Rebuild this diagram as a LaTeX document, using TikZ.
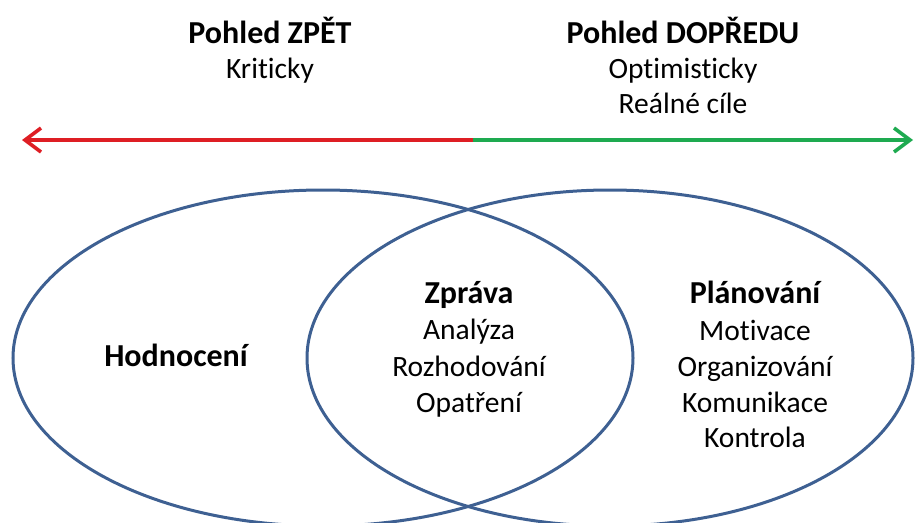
\documentclass[tikz,border=0pt]{standalone}
\usepackage{fontspec}
\setmainfont[Ligatures={NoCommon}]{Carlito}
\usetikzlibrary{arrows.meta}
\definecolor{ellblue}{RGB}{62,96,146}
\definecolor{arrred}{RGB}{222,30,36}
\definecolor{arrgreen}{RGB}{30,170,80}
\tikzset{
  lbl/.style={anchor=base, inner sep=0pt, font=\fontsize{29.5}{35}\selectfont},
  ttl/.style={anchor=base, inner sep=0pt, font=\fontsize{32}{35}\selectfont\bfseries},
  ell/.style={draw=ellblue, line width=3pt},
  arr/.style={line width=3.6pt, -{Straight Barb[length=16pt,width=24pt,line width=3.6pt]}}
}
\begin{document}
\begin{tikzpicture}[x=1pt,y=-1pt]
\useasboundingbox (0,0) rectangle (915,522);
% ellipses
\draw[ell] (323,358) ellipse [x radius=310, y radius=168];
\draw[ell] (610,358) ellipse [x radius=303, y radius=168];
% arrow
\coordinate (mid) at (473,140);
\coordinate (lend) at (22,140);
\coordinate (rend) at (913,140);
\draw[arr, arrred] (mid) -- (lend);
\draw[arr, arrgreen] (mid) -- (rend);
% headings
\node[ttl] (zpet) at (270,43) {Pohled ZPĚT};
\node[lbl] (krit) at (270,78) {Kriticky};
\node[ttl] (dopr) at (683,43) {Pohled DOPŘEDU};
\node[lbl] (opt) at (683,78) {Optimisticky};
\node[lbl] (real) at (683,113) {Reálné cíle};
% ellipse texts
\node[ttl] (hodn) at (176,366) {Hodnocení};
\node[ttl] (zprava) at (469,303) {Zpráva};
\node[lbl] (anal) at (469,339) {Analýza};
\node[lbl] (rozh) at (469,376) {Rozhodování};
\node[lbl] (opat) at (469,412) {Opatření};
\node[ttl] (plan) at (755,303) {Plánování};
\node[lbl] (moti) at (755,340) {Motivace};
\node[lbl] (orga) at (755,376) {Organizování};
\node[lbl] (komu) at (755,412) {Komunikace};
\node[lbl] (kont) at (755,447) {Kontrola};
\end{tikzpicture}
\end{document}
